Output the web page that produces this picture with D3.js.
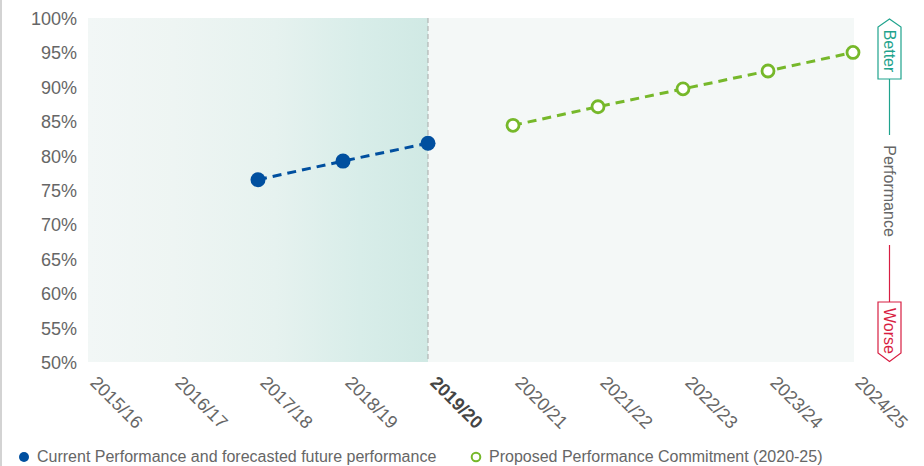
<!DOCTYPE html>
<html>
<head>
<meta charset="utf-8">
<script src="https://cdn.jsdelivr.net/npm/d3@7"></script>
<style>
  html, body { margin: 0; padding: 0; background: #fff; }
  svg { display: block; font-family: "Liberation Sans", Arial, Helvetica, sans-serif; }
</style>
</head>
<body>
<svg id="chart" width="924" height="466"></svg>
<script>
// Financial years along the x axis
const categories = ["2015/16", "2016/17", "2017/18", "2018/19", "2019/20",
                    "2020/21", "2021/22", "2022/23", "2023/24", "2024/25"];
// Current performance and forecast (%), null where no value
const currentValues = [null, null, 76.5, 79.2, 81.8, null, null, null, null, null];
// Proposed performance commitment (%)
const proposedValues = [null, null, null, null, null, 84.4, 87.1, 89.7, 92.3, 95.0];
// Y axis ticks (%)
const yTicks = [50, 55, 60, 65, 70, 75, 80, 85, 90, 95, 100];
const baseYear = "2019/20";
const legendLabels = ["Current Performance and forecasted future performance",
                      "Proposed Performance Commitment (2020-25)"];

const svg = d3.select("#chart");
const W = 924, H = 466;
const plotL = 88, plotR = 853, plotT = 18, plotB = 362;

const x = d3.scalePoint().domain(categories).range([plotL, plotR]).padding(0);
const y = d3.scaleLinear().domain([50, 100]).range([plotB, plotT]);

// frame line on the left edge
svg.append("line").attr("x1", 1).attr("x2", 1).attr("y1", 0).attr("y2", H)
  .attr("stroke", "#c4c4c4").attr("stroke-width", 1.5);

// background shading: gradient for history, flat tint for the commitment period
const defs = svg.append("defs");
const grad = defs.append("linearGradient").attr("id", "hist").attr("x1", "0%").attr("x2", "100%");
[[0, "#f2f7f6"], [0.25, "#eef5f3"], [0.55, "#e6f2ef"], [0.8, "#d8ede9"], [1, "#d0e9e4"]]
  .forEach(([o, c]) => grad.append("stop").attr("offset", o).attr("stop-color", c));

const xb = x(baseYear);
svg.append("rect").attr("x", plotL).attr("y", plotT).attr("width", xb - plotL).attr("height", plotB - plotT)
  .attr("fill", "url(#hist)");
svg.append("rect").attr("x", xb).attr("y", plotT).attr("width", plotR + 1 - xb).attr("height", plotB - plotT)
  .attr("fill", "#f4f8f7");
svg.append("line").attr("x1", xb).attr("x2", xb).attr("y1", plotT).attr("y2", plotB)
  .attr("stroke", "#a8a8a8").attr("stroke-width", 1).attr("stroke-dasharray", "5,3");

// y axis
const yAxis = svg.append("g").attr("transform", `translate(${plotL - 11},0)`)
  .call(d3.axisLeft(y).tickValues(yTicks).tickFormat(d => d + "%").tickSize(0).tickPadding(0));
yAxis.select(".domain").remove();
yAxis.selectAll("text").attr("fill", "#666").attr("font-size", 18)
  .attr("font-family", "Liberation Sans, Arial, sans-serif").attr("text-anchor", "end").attr("dy", "0.36em");

// x axis labels, rotated
const xAxis = svg.append("g").attr("transform", `translate(0,${plotB + 21})`)
  .call(d3.axisBottom(x).tickSize(0).tickPadding(0));
xAxis.select(".domain").remove();
xAxis.selectAll(".tick text")
  .attr("font-size", 18).attr("font-family", "Liberation Sans, Arial, sans-serif")
  .attr("text-anchor", "start").attr("y", 0).attr("x", 1).attr("dy", 0)
  .attr("transform", "rotate(45)")
  .attr("fill", d => d === baseYear ? "#444" : "#666")
  .attr("font-weight", d => d === baseYear ? "bold" : "normal");

// series
const lineGen = d3.line().defined(d => d.v != null).x(d => x(d.c)).y(d => y(d.v));
const cur = categories.map((c, i) => ({ c, v: currentValues[i] }));
const prop = categories.map((c, i) => ({ c, v: proposedValues[i] }));

const blue = "#004f9f", green = "#76b82a";

svg.append("path").datum(cur).attr("d", lineGen).attr("fill", "none")
  .attr("stroke", blue).attr("stroke-width", 3).attr("stroke-dasharray", "9,6");
svg.append("path").datum(prop).attr("d", lineGen).attr("fill", "none")
  .attr("stroke", green).attr("stroke-width", 3).attr("stroke-dasharray", "9,6");

svg.selectAll(".cur").data(cur.filter(d => d.v != null)).enter().append("circle")
  .attr("cx", d => x(d.c)).attr("cy", d => y(d.v)).attr("r", 7.5).attr("fill", blue);
svg.selectAll(".prop").data(prop.filter(d => d.v != null)).enter().append("circle")
  .attr("cx", d => x(d.c)).attr("cy", d => y(d.v)).attr("r", 6)
  .attr("fill", "#fff").attr("stroke", green).attr("stroke-width", 2.8);

// Better / Worse indicator
const teal = "#1fa38d", red = "#d81e42";
const ix = 889.5, bw = 11.5;
svg.append("polygon")
  .attr("points", [[ix - bw, 79], [ix - bw, 27], [ix, 19], [ix + bw, 27], [ix + bw, 79]].join(" "))
  .attr("fill", "#fff").attr("stroke", teal).attr("stroke-width", 1.2);
svg.append("line").attr("x1", ix).attr("x2", ix).attr("y1", 79).attr("y2", 135)
  .attr("stroke", teal).attr("stroke-width", 1.2);
svg.append("text").attr("transform", `translate(${ix},51) rotate(90)`)
  .attr("text-anchor", "middle").attr("dy", "0.35em").attr("font-size", 16).attr("fill", teal).text("Better");

svg.append("text").attr("transform", `translate(${ix},191) rotate(90)`)
  .attr("text-anchor", "middle").attr("dy", "0.35em").attr("font-size", 16).attr("fill", "#666").text("Performance");

svg.append("line").attr("x1", ix).attr("x2", ix).attr("y1", 245).attr("y2", 302)
  .attr("stroke", red).attr("stroke-width", 1.2);
svg.append("polygon")
  .attr("points", [[ix - bw, 302], [ix + bw, 302], [ix + bw, 353], [ix, 361.5], [ix - bw, 353]].join(" "))
  .attr("fill", "#fff").attr("stroke", red).attr("stroke-width", 1.2);
svg.append("text").attr("transform", `translate(${ix},331) rotate(90)`)
  .attr("text-anchor", "middle").attr("dy", "0.35em").attr("font-size", 16).attr("fill", red).text("Worse");

// legend
const lg = svg.append("g").attr("font-size", 16).attr("fill", "#666");
lg.append("circle").attr("cx", 24).attr("cy", 457).attr("r", 5).attr("fill", blue);
lg.append("text").attr("x", 37).attr("y", 462).text(legendLabels[0]);
lg.append("circle").attr("cx", 476).attr("cy", 457).attr("r", 4.3)
  .attr("fill", "#fff").attr("stroke", green).attr("stroke-width", 2);
lg.append("text").attr("x", 489).attr("y", 462).text(legendLabels[1]);
</script>
</body>
</html>
